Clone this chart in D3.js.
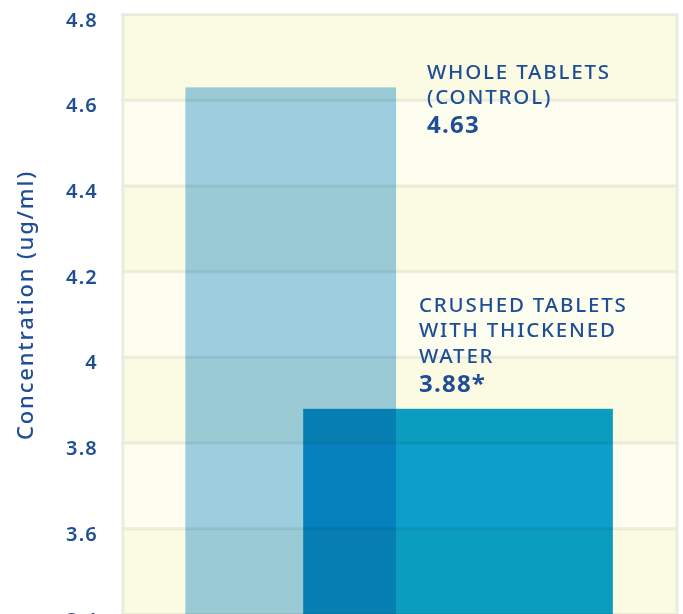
<!DOCTYPE html>
<html>
<head>
<meta charset="utf-8">
<script src="https://cdn.jsdelivr.net/npm/d3@7"></script>
<style>
  body { margin: 0; background: #fff; }
  svg text { font-family: "Noto Sans", "Open Sans", sans-serif; fill: #1f4e96; }
  svg text.value { font-family: "Open Sans", "Noto Sans", sans-serif; font-style: normal; }
</style>
</head>
<body>
<div id="chart"></div>
<script>
var categories = ["WHOLE TABLETS (CONTROL)", "CRUSHED TABLETS WITH THICKENED WATER"];
var values = [4.63, 3.88];
var valueLabels = ["4.63", "3.88*"];
var labelLines = [["WHOLE TABLETS", "(CONTROL)"], ["CRUSHED TABLETS", "WITH THICKENED", "WATER"]];
var barColors = ["#9dcfee", "#0ba0d7"];
var ticks = [3.4, 3.6, 3.8, 4.0, 4.2, 4.4, 4.6, 4.8];
var tickLabels = ["3.4", "3.6", "3.8", "4", "4.2", "4.4", "4.6", "4.8"];

var width = 683, height = 614;
var plotLeft = 124, plotRight = 677, plotTop = 14.5, plotBottom = 614.5;

var svg = d3.select("#chart").append("svg")
  .attr("width", width)
  .attr("height", height);

var y = d3.scaleLinear().domain([3.4, 4.8]).range([plotBottom, plotTop]);
// horizontal placement as fraction of plot width
var x = d3.scaleLinear().domain([0, 1]).range([plotLeft, plotRight]);
var barSpans = [[0.111, 0.492], [0.324, 0.884]];

// background bands
var bands = d3.pairs(ticks);
svg.append("g").selectAll("rect")
  .data(bands)
  .enter().append("rect")
  .attr("x", plotLeft)
  .attr("width", plotRight - plotLeft)
  .attr("y", function(d) { return y(d[1]); })
  .attr("height", function(d) { return y(d[0]) - y(d[1]); })
  .attr("fill", function(d, i) { return i % 2 == 0 ? "#fbfbe3" : "#fefef0"; });

// bars (multiplied over the bands and each other)
svg.append("g").selectAll("rect")
  .data(values)
  .enter().append("rect")
  .attr("x", function(d, i) { return x(barSpans[i][0]); })
  .attr("width", function(d, i) { return x(barSpans[i][1]) - x(barSpans[i][0]); })
  .attr("y", function(d) { return y(d); })
  .attr("height", function(d) { return plotBottom - y(d); })
  .attr("fill", function(d, i) { return barColors[i]; })
  .style("mix-blend-mode", "multiply");

// grid lines
svg.append("g").selectAll("line")
  .data(ticks)
  .enter().append("line")
  .attr("x1", plotLeft - 3).attr("x2", plotRight + 1.5)
  .attr("y1", function(d) { return y(d); })
  .attr("y2", function(d) { return y(d); })
  .attr("stroke", "#eeeeee")
  .attr("stroke-width", 3)
  .style("mix-blend-mode", "multiply");

// frame sides
svg.append("line").attr("x1", plotLeft - 1).attr("x2", plotLeft - 1).attr("y1", plotTop - 1.5).attr("y2", height)
  .attr("stroke", "#ecebdf").attr("stroke-width", 3);
svg.append("line").attr("x1", plotRight).attr("x2", plotRight).attr("y1", plotTop - 1.5).attr("y2", height)
  .attr("stroke", "#ecebdf").attr("stroke-width", 3);

// y tick labels
svg.append("g").selectAll("text")
  .data(ticks)
  .enter().append("text")
  .attr("x", 98)
  .attr("y", function(d) { return y(d) + 12; })
  .attr("text-anchor", "end")
  .attr("font-size", 20)
  .attr("font-weight", 600)
  .attr("letter-spacing", 1.2)
  .text(function(d, i) { return tickLabels[i]; });

// axis title
svg.append("text")
  .attr("transform", "translate(33,305) rotate(-90)")
  .attr("text-anchor", "middle")
  .attr("font-size", 22)
  .attr("font-weight", 500)
  .attr("letter-spacing", 1.8)
  .text("Concentration (ug/ml)");

// category annotations
var annX = [427, 419];
var annY = [78.5, 311.5];
var lineGap = 25.7;
categories.forEach(function(c, i) {
  var g = svg.append("g");
  labelLines[i].forEach(function(line, j) {
    g.append("text")
      .attr("x", annX[i])
      .attr("y", annY[i] + j * lineGap)
      .attr("font-size", 20.5)
      .attr("font-weight", 500)
      .attr("letter-spacing", 1.8)
      .text(line);
  });
  g.append("text")
    .attr("class", "value")
    .attr("x", annX[i])
    .attr("y", annY[i] + (labelLines[i].length - 1) * lineGap + 29)
    .attr("font-size", 24)
    .attr("font-weight", 700)
    .attr("letter-spacing", 1.2)
    .text(valueLabels[i]);
});
</script>
</body>
</html>
